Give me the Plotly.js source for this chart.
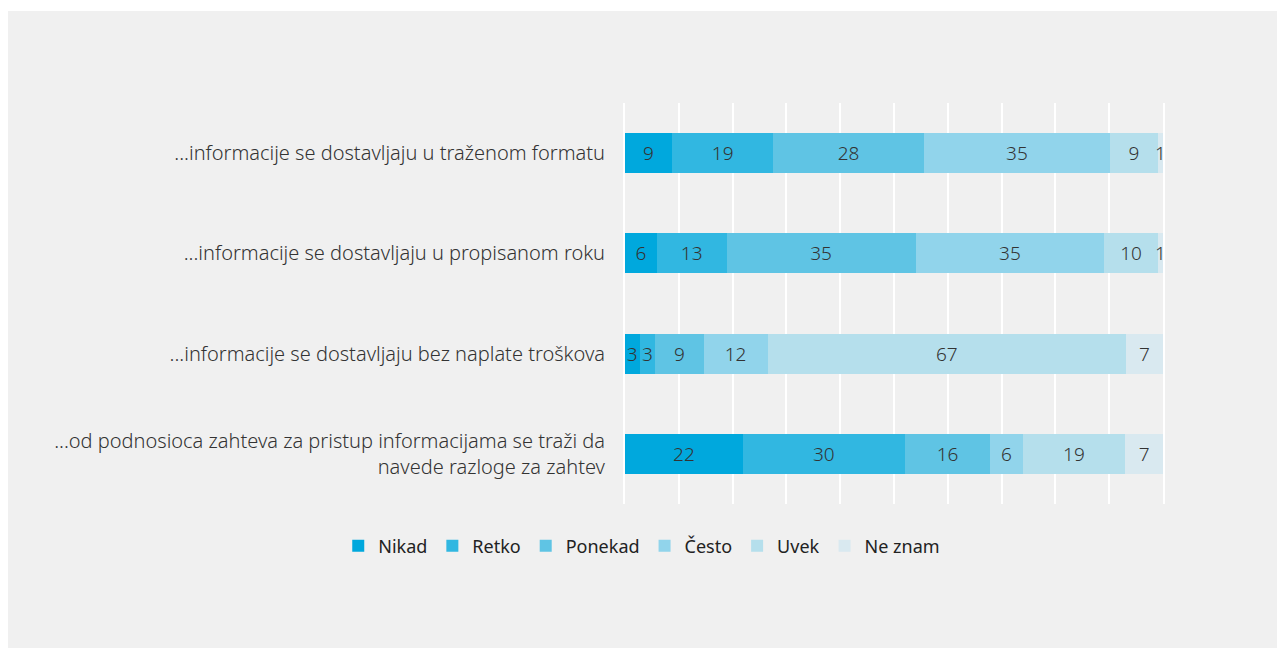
<!DOCTYPE html>
<html>
<head>
<meta charset="utf-8">
<script src="https://cdn.plot.ly/plotly-3.0.1.min.js"></script>
<style>
  html, body { margin: 0; padding: 0; background: #ffffff; }
  #box { position: absolute; left: 8px; top: 11px; width: 1269px; height: 637px; background: #f0f0f0; }
  #chart { width: 1269px; height: 637px; }
</style>
</head>
<body>
<div id="box"><div id="chart"></div></div>
<script>
// Categories (top to bottom)
const categories = [
  "...informacije se dostavljaju u traženom formatu",
  "...informacije se dostavljaju u propisanom roku",
  "...informacije se dostavljaju bez naplate troškova",
  "...od podnosioca zahteva za pristup informacijama se traži da<br>navede razloge za zahtev"
];
const seriesNames = ["Nikad", "Retko", "Ponekad", "Često", "Uvek", "Ne znam"];
// Percentages (labels shown rounded)
const nikad   = [8.7, 5.9, 2.7, 21.9];
const retko   = [18.9, 13.0, 2.9, 30.1];
const ponekad = [27.9, 35.1, 9.0, 15.9];
const cesto   = [34.7, 35.1, 11.9, 6.0];
const uvek    = [8.8, 9.9, 66.6, 19.1];
const neZnam  = [1.0, 1.0, 6.9, 7.0];
const seriesValues = [nikad, retko, ponekad, cesto, uvek, neZnam];
const colors = ["#00a8dd", "#31b7e1", "#5fc4e4", "#91d4eb", "#b5dfec", "#d9e9f0"];

const FONT = "Noto Sans, Open Sans, sans-serif";
const TXT = "#333333";

const traces = seriesNames.map((name, i) => ({
  type: "bar",
  orientation: "h",
  name: name,
  y: categories,
  x: seriesValues[i],
  marker: { color: colors[i], line: { width: 0 } },
  texttemplate: "%{x:.0f}",
  textposition: "inside",
  insidetextanchor: "middle",
  textangle: 0,
  constraintext: "none",
  textfont: { family: FONT, size: 19, color: TXT, weight: 300 },
  hoverinfo: "x+name"
}));

const layout = {
  width: 1269,
  height: 637,
  paper_bgcolor: "#f0f0f0",
  plot_bgcolor: "#f0f0f0",
  barmode: "stack",
  bargap: 0.6,
  margin: { l: 617, r: 114, t: 92, b: 144 },
  font: { family: FONT, size: 17, color: TXT },
  uniformtext: { minsize: 19, mode: "show" },
  xaxis: {
    range: [0, 100],
    dtick: 10,
    showticklabels: false,
    showgrid: true,
    gridcolor: "#ffffff",
    gridwidth: 2,
    zeroline: false,
    showline: false,
    fixedrange: true
  },
  yaxis: {
    type: "category",
    autorange: "reversed",
    showgrid: false,
    zeroline: false,
    showline: true,
    mirror: true,
    linecolor: "#ffffff",
    linewidth: 2,
    layer: "below traces",
    ticks: "",
    ticklabelstandoff: 14,
    tickfont: { family: FONT, size: 20, color: TXT, weight: 300 },
    fixedrange: true
  },
  showlegend: true,
  legend: {
    orientation: "h",
    x: -0.533,
    xanchor: "left",
    y: -0.105,
    yanchor: "middle",
    font: { family: FONT, size: 18, color: "#222222" },
    itemwidth: 30,
    traceorder: "normal",
    bgcolor: "rgba(0,0,0,0)"
  }
};

Plotly.newPlot("chart", traces, layout, { displayModeBar: false, staticPlot: true });
</script>
</body>
</html>
